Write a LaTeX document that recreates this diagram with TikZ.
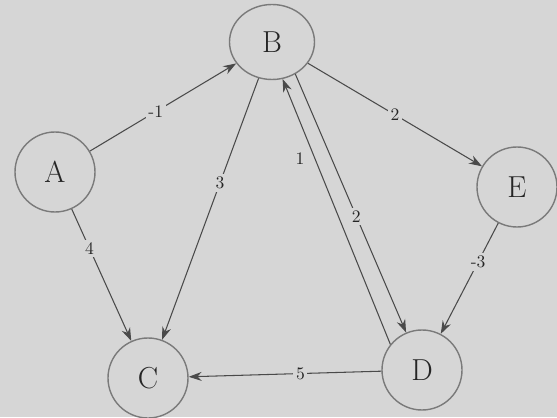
\documentclass[tikz,border=0pt]{standalone}
\usepackage{tikz}
\usetikzlibrary{arrows.meta,shapes.geometric}
\definecolor{paper}{HTML}{D6D6D6}
\definecolor{ink}{HTML}{4A4A4A}
\definecolor{rim}{HTML}{7A7A7A}

\begin{document}
\begin{tikzpicture}[>={Stealth[length=2.6mm,width=1.8mm]},
  vertex/.style={circle,draw=rim,thick,minimum size=16mm,inner sep=0pt,
    font=\LARGE,text=black!85},
  edge/.style={->,draw=ink,semithick},
  wt/.style={fill=paper,inner sep=1.5pt,font=\normalsize,text=black!85}]
  \fill[paper] (0,0) rectangle (11.14,8.34);
  \useasboundingbox (0,0) rectangle (11.14,8.34);
  \node[vertex,ellipse,minimum width=17mm,minimum height=15mm] (B) at (5.44,7.50) {B};
  \node[vertex] (A) at (1.10,4.90) {A};
  \node[vertex] (E) at (10.34,4.60) {E};
  \node[vertex] (C) at (2.96,0.78) {C};
  \node[vertex] (D) at (8.44,0.94) {D};
  \draw[edge] (A) -- (B) node[wt,pos=.45] {-1};
  \draw[edge] (A) -- (C) node[wt,pos=.3] {4};
  \draw[edge] (B) -- (C) node[wt,pos=.4] {3};
  \draw[edge] (B) -- (E) node[wt,pos=.5] {2};
  \draw[edge] (B.-54) -- (D.113) node[wt,pos=.55] {2};
  \draw[edge] (D.141) -- (B.-74) node[wt,pos=.7,xshift=-3mm] {1};
  \draw[edge] (E) -- (D) node[wt,pos=.35] {-3};
  \draw[edge] (D) -- (C) node[wt,pos=.42] {5};
\end{tikzpicture}
\end{document}
